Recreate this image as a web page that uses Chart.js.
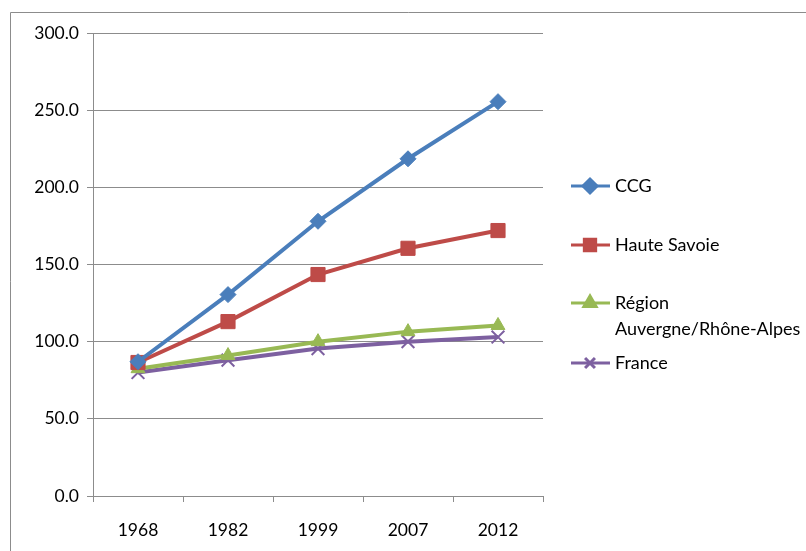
<!DOCTYPE html>
<html>
<head>
<meta charset="utf-8">
<script src="https://cdn.jsdelivr.net/npm/chart.js@4/dist/chart.umd.min.js"></script>
<style>
  html, body { margin: 0; padding: 0; background: #fff; }
  #wrap { width: 806px; height: 551px; }
</style>
</head>
<body>
<div id="wrap"><canvas id="graf"></canvas></div>
<script>
// categories and series
const annees = ['1968', '1982', '1999', '2007', '2012'];
const ccg = [87, 130.5, 178, 218.5, 255.5];
const hauteSavoie = [86.5, 113, 143.5, 160.5, 172];
const region = [82.5, 91, 100, 106.5, 110.5];
const france = [80, 88, 95.5, 100, 103];

const series = [
    { label: 'CCG', data: ccg, color: '#4A7EBB', style: 'rectRot', radius: 8, lignes: ['CCG'], y: 186 },
    { label: 'Haute Savoie', data: hauteSavoie, color: '#BE4B48', style: 'rect', radius: 10, lignes: ['Haute Savoie'], y: 245 },
    { label: 'Région Auvergne/Rhône-Alpes', data: region, color: '#98B954', style: 'triangle', radius: 8, lignes: ['Région', 'Auvergne/Rhône-Alpes'], y: 303 },
    { label: 'France', data: france, color: '#7D60A0', style: 'crossRot', radius: 9, lignes: ['France'], y: 363 }
];

const police = 'Lato, "Open Sans", sans-serif';

// cadre gris + légende dessinée à la main (ligne + marqueur)
const cadreLegende = {
    id: 'cadreLegende',
    beforeDraw(chart) {
        const ctx = chart.ctx;
        ctx.save();
        ctx.strokeStyle = '#8c8c8c';
        ctx.lineWidth = 1;
        ctx.beginPath();
        ctx.moveTo(10.5, 551);
        ctx.lineTo(10.5, 12.5);
        ctx.lineTo(806, 12.5);
        ctx.stroke();
        ctx.restore();
    },
    afterDraw(chart) {
        const ctx = chart.ctx;
        ctx.save();
        series.forEach(s => {
            ctx.strokeStyle = s.color;
            ctx.lineWidth = 3;
            ctx.beginPath();
            ctx.moveTo(571, s.y);
            ctx.lineTo(610, s.y);
            ctx.stroke();
            ctx.fillStyle = s.color;
            ctx.strokeStyle = s.color;
            Chart.helpers.drawPoint(ctx, {
                pointStyle: s.style,
                radius: s.style === 'rect' ? 8 : 7,
                rotation: 0,
                borderWidth: s.style === 'crossRot' ? 1.5 : 1
            }, 590, s.y);
            ctx.fillStyle = '#000';
            ctx.font = '18px ' + police;
            ctx.textBaseline = 'middle';
            s.lignes.forEach((t, i) => ctx.fillText(t, 615, s.y + i * 26));
        });
        ctx.restore();
    }
};

const datasets = series.map(s => ({
    label: s.label,
    data: s.data,
    borderColor: s.color,
    backgroundColor: s.color,
    borderWidth: 4,
    pointStyle: s.style,
    pointRadius: s.radius,
    pointHoverRadius: s.radius,
    pointBorderWidth: s.style === 'crossRot' ? 2 : 1,
    tension: 0
}));

const ctx = document.getElementById('graf').getContext('2d');
window.myChart = new Chart(ctx, {
    type: 'line',
    data: { labels: annees, datasets: datasets },
    options: {
        responsive: true,
        maintainAspectRatio: false,
        animation: false,
        layout: { padding: { top: 33, right: 263, left: 0, bottom: 0 } },
        plugins: {
            legend: { display: false },
            tooltip: { enabled: false }
        },
        scales: {
            x: {
                offset: true,
                grid: {
                    offset: true,
                    drawOnChartArea: false,
                    drawTicks: true,
                    tickLength: 6,
                    color: '#8c8c8c'
                },
                border: { color: '#8c8c8c', width: 1 },
                ticks: { color: '#000', font: { family: police, size: 17.5 }, padding: 18, maxRotation: 0 },
                afterFit(scale) { scale.height = 55; }
            },
            y: {
                min: 0,
                max: 300,
                grid: { color: '#8c8c8c', tickLength: 6 },
                border: { color: '#8c8c8c', width: 1 },
                ticks: {
                    stepSize: 50,
                    color: '#000',
                    font: { family: police, size: 17.5 },
                    padding: 8,
                    callback: v => v.toFixed(1)
                },
                afterFit(scale) { scale.width = 93; }
            }
        }
    },
    plugins: [cadreLegende]
});
</script>
</body>
</html>
